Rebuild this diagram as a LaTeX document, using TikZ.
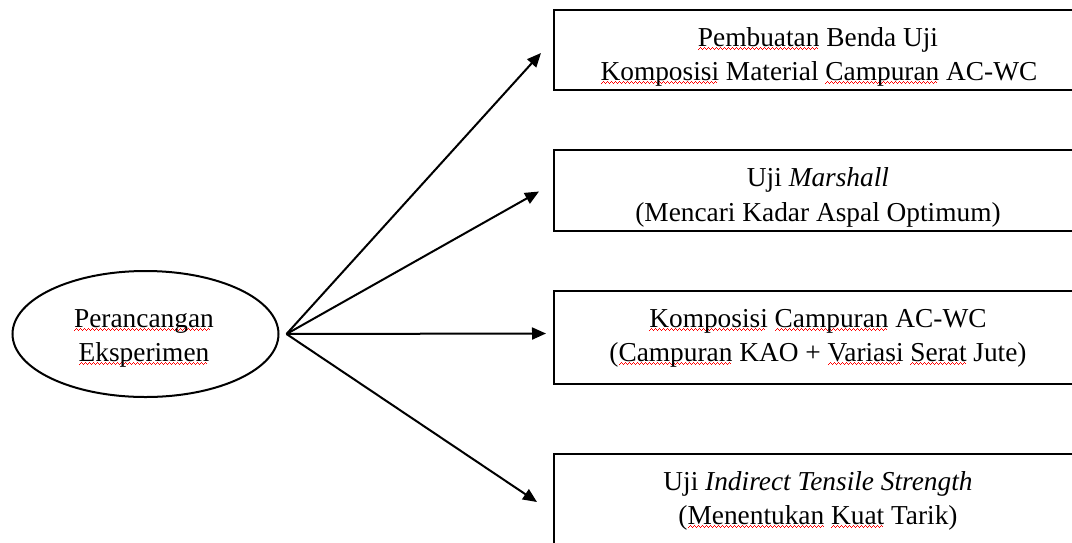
\documentclass[tikz,border=0pt]{standalone}
\usepackage{fontspec}
\setmainfont{Liberation Serif}
\usetikzlibrary{arrows.meta,shapes.geometric}
\newcommand\wavepiece{\hbox{\vrule width1pt height1.6pt depth0pt\vrule width1pt height2.6pt depth-1pt\vrule width1pt height3.6pt depth-2pt\vrule width1pt height2.6pt depth-1pt}}
\newcommand\sqw[1]{\setbox0\hbox{#1}\rlap{\lower4.2pt\hbox to\wd0{\color{red}\leaders\wavepiece\hfill}}\box0\relax}
\tikzset{
  txt/.style={inner sep=0pt, anchor=base, font=\fontsize{27.35}{34}\selectfont},
  boxnode/.style={draw, line width=2pt, minimum width=528pt, inner sep=0pt},
  ellnode/.style={draw, ellipse, line width=2pt, minimum width=266pt, minimum height=126pt, inner sep=0pt},
  arr/.style={line width=2pt, -{Triangle[length=14pt,width=12pt]}}
}
\begin{document}
\begin{tikzpicture}[x=1pt,y=-1pt]
\useasboundingbox (0,0) rectangle (1072,542);
\clip (0,0) rectangle (1072,542);
% ellipse
\node[ellnode] (ell) at (145.5,334) {};
\node[txt] (e1) at (144,327) {\sqw{Perancangan}};
\node[txt] (e2) at (144,361) {\sqw{Eksperimen}};
\coordinate (src) at ([xshift=7pt]ell.east);
% boxes
\node[boxnode, minimum height=80pt] (b1) at (818,50) {};
\node[txt] (t1a) at (818,46) {\sqw{Pembuatan} Benda Uji};
\node[txt] (t1b) at (819,80) {\sqw{Komposisi} Material \sqw{Campuran} AC-WC};
\node[boxnode, minimum height=81pt] (b2) at (818,190.5) {};
\begin{scope}
\clip (555,151) rectangle (1082,230);
\node[txt] (t2a) at (818,186) {Uji \textit{Marshall}};
\node[txt] (t2b) at (818,221) {(Mencari Kadar Aspal Optimum)};
\end{scope}
\node[boxnode, minimum height=93pt] (b3) at (818,337.5) {};
\node[txt] (t3a) at (818,327) {\sqw{Komposisi} \sqw{Campuran} AC-WC};
\node[txt] (t3b) at (818,361) {(\sqw{Campuran} KAO + \sqw{Variasi} \sqw{Serat} Jute)};
\node[boxnode, minimum height=96pt] (b4) at (818,502) {};
\node[txt] (t4a) at (818,490) {Uji \textit{Indirect Tensile Strength}};
\node[txt] (t4b) at (818,524) {(\sqw{Menentukan} \sqw{Kuat} Tarik)};
% arrows
\draw[arr] (src) -- ([xshift=-12pt,yshift=-3pt]b1.west);
\draw[arr] (src) -- ([xshift=-14pt,yshift=-1pt]b2.west);
\draw[arr] (src) -- ([xshift=-7pt,yshift=4pt]b3.west);
\draw[arr] (src) -- ([xshift=-16pt]b4.west);
\end{tikzpicture}
\end{document}
